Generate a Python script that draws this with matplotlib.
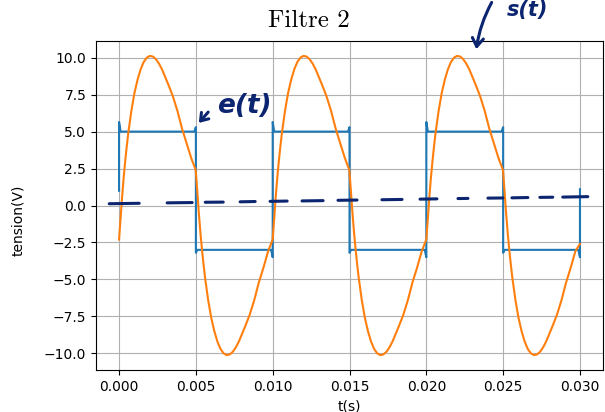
import numpy as np
import matplotlib
matplotlib.use("Agg")
import matplotlib.pyplot as plt

# square input e(t): corner points
e_t = [0.0, 0.0, 0.0001, 0.0049, 0.005, 0.005, 0.0051, 0.0099,
       0.01, 0.01, 0.0101, 0.0149, 0.015, 0.015, 0.0151, 0.0199,
       0.02, 0.02, 0.0201, 0.0249, 0.025, 0.025, 0.0251, 0.0299,
       0.03, 0.03]
e_v = [1.0, 5.65, 5.0, 5.0, 5.3, -3.2, -3.0, -3.0,
       -3.5, 5.65, 5.0, 5.0, 5.3, -3.2, -3.0, -3.0,
       -3.5, 5.65, 5.0, 5.0, 5.3, -3.2, -3.0, -3.0,
       -3.5, 1.1]

# filtered output s(t): one period
period = 0.01
s_phase = [0.0, 0.0001, 0.0002, 0.0003, 0.0004, 0.0005, 0.0006, 0.0008,
           0.0010, 0.0012, 0.0014, 0.0016, 0.0018, 0.0020, 0.0022, 0.0024,
           0.0026, 0.0028, 0.0030, 0.0032, 0.0035, 0.0038, 0.0041, 0.0044,
           0.0047, 0.00499, 0.0051, 0.0052, 0.0053, 0.0054, 0.0055, 0.0056,
           0.0058, 0.0060, 0.0062, 0.0064, 0.0066, 0.0068, 0.0070, 0.0072,
           0.0074, 0.0076, 0.0078, 0.0080, 0.0082, 0.0085, 0.0088, 0.0091,
           0.0094, 0.0097]
s_vals = [-2.3, -0.8, 0.6, 1.9, 3.0, 4.0, 4.9, 6.4,
          7.6, 8.5, 9.2, 9.7, 10.0, 10.12, 10.08, 9.9,
          9.6, 9.2, 8.7, 8.2, 7.4, 6.4, 5.2, 4.2,
          3.2, 2.4, 0.8, -0.6, -1.9, -3.0, -4.0, -4.9,
          -6.4, -7.6, -8.5, -9.2, -9.7, -10.0, -10.12, -10.08,
          -9.9, -9.6, -9.2, -8.7, -8.2, -7.4, -6.4, -5.2,
          -4.2, -3.1]
s_end = (0.03, -2.6)

x_ticks = [0.000, 0.005, 0.010, 0.015, 0.020, 0.025, 0.030]

# hand-drawn dashed line near zero: start/end of each dash
dash_t0 = [-0.00064, 0.00313, 0.00561, 0.00788, 0.00983, 0.01191, 0.01425,
           0.01711, 0.01959, 0.02206, 0.02401, 0.02557, 0.02739, 0.02888]
dash_t1 = [0.00131, 0.00476, 0.00678, 0.00886, 0.01094, 0.01328, 0.01549,
           0.01842, 0.02069, 0.02271, 0.02498, 0.02661, 0.02823, 0.03051]
dash_v0 = [0.12, 0.18, 0.22, 0.25, 0.28, 0.31, 0.35,
           0.39, 0.43, 0.47, 0.50, 0.52, 0.55, 0.57]
dash_v1 = [0.15, 0.20, 0.23, 0.27, 0.30, 0.33, 0.37,
           0.41, 0.45, 0.48, 0.51, 0.54, 0.56, 0.60]

s_t = np.concatenate([np.array(s_phase) + k * period for k in range(3)] + [[s_end[0]]])
s_v = np.concatenate([s_vals] * 3 + [[s_end[1]]])

ink = "#0c2570"

fig = plt.figure(figsize=(6.05, 4.12), dpi=100)
ax = fig.add_axes([0.1587, 0.1019, 0.8380, 0.7986])

ax.plot(e_t, e_v)
ax.plot(s_t, s_v)

ax.set_xlim(-0.0015, 0.0315)
ax.set_ylim(-11.13, 11.13)
ax.set_xticks(x_ticks)
ax.set_xticklabels([f"{v:.3f}" for v in x_ticks])
ax.set_yticks([-10, -7.5, -5, -2.5, 0, 2.5, 5, 7.5, 10])
ax.set_yticklabels(["\u221210.0", "\u22127.5", "\u22125.0", "\u22122.5", "0.0",
                    "2.5", "5.0", "7.5", "10.0"])
ax.grid(True)
ax.set_xlabel("t(s)")
ax.set_ylabel("tension(V)")
ax.yaxis.set_label_coords(-0.14, 0.456)

fig.text(309 / 605, 1 - 27 / 412, "Filtre 2", family="cmr10", fontsize=18,
         ha="center", va="baseline")

# hand-drawn marks
for t0, t1, v0, v1 in zip(dash_t0, dash_t1, dash_v0, dash_v1):
    ax.plot([t0, t1], [v0, v1], color=ink, lw=2.2, solid_capstyle="round",
            clip_on=False)

ax.annotate("", xy=(197, 412 - 125), xytext=(210, 412 - 110),
            xycoords="figure pixels", textcoords="figure pixels",
            arrowprops=dict(arrowstyle="->,head_length=0.5,head_width=0.35",
                            color=ink, lw=2.2))
fig.text(244 / 605, 1 - 106 / 412, "e(t)", color=ink, fontsize=19,
         style="italic", fontweight="semibold", family="DejaVu Sans",
         ha="center", va="center")

ax.annotate("", xy=(476, 412 - 52), xytext=(493, 412),
            xycoords="figure pixels", textcoords="figure pixels",
            arrowprops=dict(arrowstyle="->,head_length=0.6,head_width=0.4",
                            color=ink, lw=2.2,
                            connectionstyle="arc3,rad=0.1"))
fig.text(527 / 605, 1.0, "s(t)", color=ink, fontsize=15,
         style="italic", fontweight="semibold", family="DejaVu Sans",
         ha="center", va="top")

fig.savefig("out.png", dpi=100)
